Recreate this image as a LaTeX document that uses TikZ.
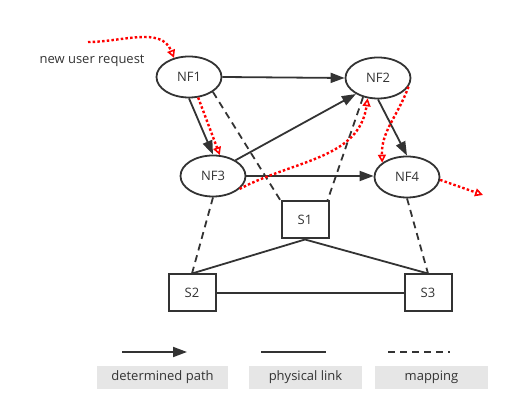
\documentclass[tikz,border=0pt]{standalone}
\usepackage{fontspec}
\setmainfont{Open Sans}
\usetikzlibrary{positioning,shapes.geometric,arrows.meta}
\definecolor{ink}{HTML}{333333}
\definecolor{legbg}{HTML}{E6E6E6}
\begin{document}
\begin{tikzpicture}[x=1pt, y=1pt, >={Triangle[length=14pt,width=10pt]},
                        font=\fontsize{13}{15}\selectfont, text=ink,
                        nf/.style={ellipse,draw=ink,line width=1.8pt,minimum width=65pt,minimum height=41pt,inner sep=0pt},
                        sw/.style={rectangle,draw=ink,line width=2pt,minimum width=47pt,minimum height=37pt,inner sep=0pt},
                        pil/.style={->,draw=ink,line width=1.8pt},
                        phys/.style={draw=ink,line width=1.8pt},
                        mapping/.style={draw=ink,line width=1.8pt,dash pattern=on 7pt off 5pt},
                        reqpath/.style={red,line width=2.4pt,dash pattern=on 2.5pt off 2.2pt,
                                        -{Triangle[open,length=8pt,width=8pt,line width=1.6pt]}},
                        legbox/.style={fill=legbg,minimum height=23pt,inner sep=0pt}
                        ]
    \useasboundingbox (0,0) rectangle (513,414);
    % network functions and switches
    \node[nf] at (189,337) (nf1) {NF1};
    \node[nf] at (378,336) (nf2) {NF2};
    \node[nf] at (213,238) (nf3) {NF3};
    \node[nf] at (407,237) (nf4) {NF4};
    \node[sw] at (305,194) (s1) {S1};
    \node[sw] at (192,121) (s2) {S2};
    \node[sw] at (428,121) (s3) {S3};
    \node[anchor=west] at (36,353) (lbl) {new user request};
    \coordinate (req) at (88,372);
    \coordinate (out) at (483,219);
    % determined path
    \draw[pil] (nf1.east) -- (nf2.west);
    \draw[pil] (nf1.south) -- (nf3.north);
    \draw[pil] (nf3.35) -- (nf2.216);
    \draw[pil] (nf3.east) -- (nf3.east -| nf4.west);
    \draw[pil] (nf2.south) -- (nf4.north);
    % mapping
    \draw[mapping] (nf1.328) -- (s1.north west);
    \draw[mapping] (nf2.232) -- ([xshift=-2pt]s1.north east);
    \draw[mapping] (nf3.south) -- (s2.north);
    \draw[mapping] (nf4.south) -- (s3.north);
    % physical links
    \draw[phys] (s1.south) -- (s2.north);
    \draw[phys] (s1.south) -- (s3.north);
    \draw[phys] (s2.east) -- (s3.west);
    % new request
    \draw[reqpath] (req) to [out=0,in=112] (nf1.128);
    \draw[reqpath] (nf1.294) -- (nf3.72);
    \draw[reqpath] (nf3.334) to [out=28,in=262] (nf2.243);
    \draw[reqpath] (nf2.344) to [out=250,in=92] (nf4.150);
    \draw[reqpath] (nf4.355) -- (out);
    % legend
    \coordinate (l1a) at (122,62);
    \coordinate (l1b) at (187,62);
    \coordinate (l2a) at (261,62);
    \coordinate (l2b) at (326,62);
    \coordinate (l3a) at (388,62);
    \coordinate (l3b) at (450,62);
    \draw[pil] (l1a) -- (l1b);
    \draw[phys] (l2a) -- (l2b);
    \draw[mapping] (l3a) -- (l3b);
    \node[legbox,minimum width=131pt] at (162.5,36.5) (leg1) {determined path};
    \node[legbox,minimum width=113pt] at (305.5,36.5) (leg2) {physical link};
    \node[legbox,minimum width=113pt] at (431.5,36.5) (leg3) {mapping};
\end{tikzpicture}
\end{document}
